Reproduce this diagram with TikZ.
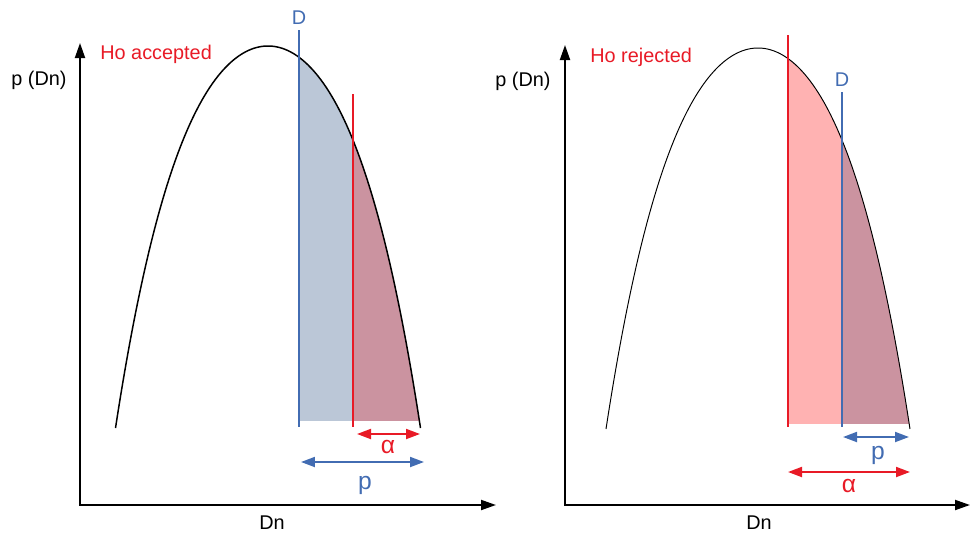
\documentclass[tikz,border=0pt]{standalone}
\usepackage{fontspec}
\setmainfont{Liberation Sans}
\usepackage{xcolor}
\usetikzlibrary{arrows.meta,positioning}
\definecolor{dblue}{RGB}{66,108,178}
\definecolor{dred}{RGB}{232,26,38}
\definecolor{bfill}{RGB}{187,199,215}
\definecolor{mfill}{RGB}{203,147,160}
\definecolor{pfill}{RGB}{255,178,178}

\begin{document}
\begin{tikzpicture}[x=0.02cm,y=-0.02cm,
  ax/.style={{Triangle[length=0.3cm,width=0.2cm]}-{Triangle[length=0.3cm,width=0.2cm]},line width=1.1pt},
  dim/.style={{Triangle[length=0.28cm,width=0.2cm]}-{Triangle[length=0.28cm,width=0.2cm]},line width=1.1pt},
  lab/.style={font=\fontsize{11.3}{13}\selectfont,inner sep=0pt},
  big/.style={font=\fontsize{14}{16}\selectfont,inner sep=0pt},
  vline/.style={line width=0.85pt},
  declare function={sq(\x,\c,\w)=((\x-\c)/\w)^2;
    bell(\x,\c,\w,\t,\b)=\t+(\b-\t)*(0.7*sq(\x,\c,\w)+0.3*sq(\x,\c,\w)^2);}]
  \useasboundingbox (0,0) rectangle (971,535);
  % left: Ho accepted
  \begin{scope}
    \clip (299,0) rectangle (430,420);
    \fill[bfill] plot[domain=268:420.5,samples=60] (\x,{bell(\x,268,152.5,46,428)}) -- (268,428) -- cycle;
  \end{scope}
  \begin{scope}
    \clip (353,0) rectangle (430,420);
    \fill[mfill] plot[domain=268:420.5,samples=60] (\x,{bell(\x,268,152.5,46,428)}) -- (268,428) -- cycle;
  \end{scope}
  \draw[line width=0.85pt] plot[smooth,domain=115.5:420.5,samples=120] (\x,{bell(\x,268,152.5,46,428)});
  \coordinate (oL) at (80,505);
  \coordinate (yL) at (80,43);
  \coordinate (xL) at (496,505);
  \draw[ax] (yL) -- (oL) -- (xL);
  \coordinate (dtL) at (299,30);
  \coordinate (dbL) at (299,427);
  \coordinate (rtL) at (353,94);
  \coordinate (rbL) at (353,427);
  \draw[vline,dblue] (dtL) -- (dbL);
  \draw[vline,dred] (rtL) -- (rbL);
  \node[lab] (pyL) at (39,80) {p (Dn)};
  \node[lab,anchor=west,text=dred] (hoL) at (100,54) {Ho accepted};
  \node[lab] (dnL) at (272,523) {Dn};
  \node[lab,text=dblue] (DL) at (299,18) {D};
  \coordinate (a1L) at (357,434);
  \coordinate (a2L) at (420,434);
  \coordinate (p1L) at (301,462);
  \coordinate (p2L) at (424,462);
  \draw[dim,dred] (a1L) -- (a2L);
  \draw[dim,dblue] (p1L) -- (p2L);
  \node[big,text=dred] (alL) at (388,447) {α};
  \node[big,text=dblue] (pL) at (365,485) {p};
  % right: Ho rejected
  \begin{scope}
    \clip (787,0) rectangle (920,423);
    \fill[pfill] plot[domain=758:910,samples=60] (\x,{bell(\x,758,152,48,429)}) -- (758,429) -- cycle;
  \end{scope}
  \begin{scope}
    \clip (842,0) rectangle (920,423);
    \fill[mfill] plot[domain=758:910,samples=60] (\x,{bell(\x,758,152,48,429)}) -- (758,429) -- cycle;
  \end{scope}
  \draw[line width=0.55pt] plot[smooth,domain=606:910,samples=120] (\x,{bell(\x,758,152,48,429)});
  \coordinate (oR) at (565,505);
  \coordinate (yR) at (565,45);
  \coordinate (xR) at (970,505);
  \draw[ax] (yR) -- (oR) -- (xR);
  \coordinate (rtR) at (788,35);
  \coordinate (rbR) at (788,427);
  \coordinate (dtR) at (842,92);
  \coordinate (dbR) at (842,427);
  \draw[vline,dred] (rtR) -- (rbR);
  \draw[vline,dblue] (dtR) -- (dbR);
  \node[lab] (pyR) at (523,81) {p (Dn)};
  \node[lab,anchor=west,text=dred] (hoR) at (590,57) {Ho rejected};
  \node[lab] (dnR) at (759,523) {Dn};
  \node[lab,text=dblue] (DR) at (842,80) {D};
  \coordinate (p1R) at (843,437);
  \coordinate (p2R) at (909,437);
  \coordinate (a1R) at (788,472);
  \coordinate (a2R) at (910,472);
  \draw[dim,dblue] (p1R) -- (p2R);
  \draw[dim,dred] (a1R) -- (a2R);
  \node[big,text=dblue] (pR) at (878,455) {p};
  \node[big,text=dred] (alR) at (849,486) {α};
\end{tikzpicture}
\end{document}
